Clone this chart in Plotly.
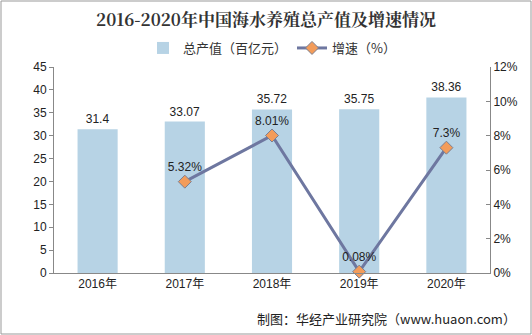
import plotly.graph_objects as go

years = ["2016年", "2017年", "2018年", "2019年", "2020年"]
output_value = [31.4, 33.07, 35.72, 35.75, 38.36]
growth_years = ["2017年", "2018年", "2019年", "2020年"]
growth_rate = [5.32, 8.01, 0.08, 7.3]
growth_labels = ["5.32%", "8.01%", "0.08%", "7.3%"]

W, H = 532, 335
L, R, T, B = 54, 42, 67, 62
pw, ph = W - L - R, H - T - B

font_fam = "Liberation Sans, Arial, Noto Sans CJK SC"
fig = go.Figure()
fig.add_trace(go.Bar(
    x=years, y=output_value, name="总产值（百亿元）",
    marker=dict(color="#B7D3E5", line=dict(width=0)), width=0.46,
    text=[str(v) for v in output_value], textposition="outside",
    textfont=dict(size=12, color="#222", family=font_fam), cliponaxis=False,
))
fig.add_trace(go.Scatter(
    x=growth_years, y=growth_rate, name="增速（%）", yaxis="y2",
    mode="lines+markers+text",
    line=dict(color="#6E77A0", width=3),
    marker=dict(symbol="diamond", size=10, color="#F39C5A", line=dict(color="#7C7F90", width=1)),
    text=growth_labels, textposition="top center",
    textfont=dict(size=12, color="#222", family=font_fam), cliponaxis=False,
))

axis_common = dict(showgrid=False, linecolor="#888", linewidth=1, tickcolor="#888",
                   tickfont=dict(size=12, color="#222", family=font_fam), zeroline=False)
fig.update_layout(
    width=W, height=H, margin=dict(l=L, r=R, t=T, b=B),
    paper_bgcolor="white", plot_bgcolor="white",
    font=dict(family=font_fam),
    title=dict(text="<b>2016-2020年中国海水养殖总产值及增速情况</b>", x=0.5, xanchor="center",
               y=1 - 20 / H, yanchor="middle",
               font=dict(size=17, color="#333", family="Noto Serif CJK SC, Noto Sans CJK SC")),
    legend=dict(orientation="h", x=0.5, xanchor="center", y=1 + 19 / ph, yanchor="middle",
                font=dict(size=13, color="#333", family="Noto Sans CJK SC"),
                itemwidth=30, bgcolor="rgba(0,0,0,0)"),
    xaxis=dict(**axis_common, showline=True, ticks="", mirror=False),
    yaxis=dict(**axis_common, range=[0, 45], dtick=5, showline=True, ticks="outside", ticklen=4),
    yaxis2=dict(**axis_common, range=[0, 12], dtick=2, overlaying="y", side="right",
                showline=True, ticks="inside", ticklen=4, ticksuffix="%"),
    bargap=0.54,
    showlegend=True,
)
fig.add_shape(type="rect", xref="paper", yref="paper",
              x0=-(L - 1) / pw, x1=(W - L - 1) / pw, y0=-(B - 1) / ph, y1=(H - B - 1) / ph,
              line=dict(color="#999", width=1), fillcolor="rgba(0,0,0,0)")
fig.add_annotation(text="制图：华经产业研究院（www.huaon.com）", xref="paper", yref="paper",
                   x=(518 - L) / pw, xanchor="right", y=(H - B - 318) / ph, yanchor="middle",
                   showarrow=False, font=dict(size=13, color="#222", family="Noto Sans CJK SC"))
fig.write_html("out.html")
